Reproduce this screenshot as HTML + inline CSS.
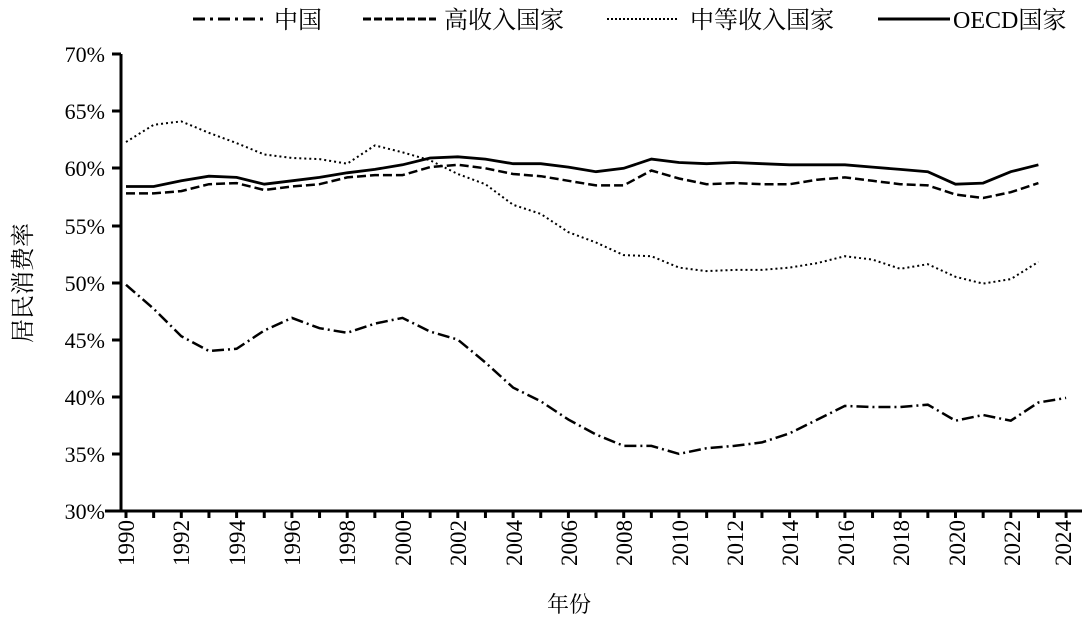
<!DOCTYPE html>
<html><head><meta charset="utf-8"><style>
html,body{margin:0;padding:0;background:#fff;}
svg{display:block;font-family:"Liberation Serif","Noto Serif CJK SC",serif;}
</style></head><body>
<svg id="s" width="1089" height="618" viewBox="0 0 1089 618" xmlns="http://www.w3.org/2000/svg">
<rect width="1089" height="618" fill="#fff"/>
<g stroke="#000" stroke-width="3" fill="none">
<line x1="121" y1="54" x2="121" y2="512"/>
<line x1="105" y1="511" x2="1082" y2="511"/>
<line x1="112" y1="54" x2="121" y2="54"/><line x1="112" y1="111" x2="121" y2="111"/>
<line x1="112" y1="168" x2="121" y2="168"/><line x1="112" y1="226" x2="121" y2="226"/>
<line x1="112" y1="283" x2="121" y2="283"/><line x1="112" y1="340" x2="121" y2="340"/>
<line x1="112" y1="397" x2="121" y2="397"/><line x1="112" y1="454" x2="121" y2="454"/>
</g>
<g id="ticks" stroke="#000" stroke-width="3"></g>
<g id="series" fill="none" stroke="#000"></g>
<g font-size="22" text-anchor="end" fill="#000">
<text x="105" y="62">70%</text><text x="105" y="119">65%</text><text x="105" y="176">60%</text>
<text x="105" y="234">55%</text><text x="105" y="291">50%</text><text x="105" y="348">45%</text>
<text x="105" y="405">40%</text><text x="105" y="462">35%</text><text x="105" y="519">30%</text>
</g>
<g font-size="23" text-anchor="end" fill="#000">
<text transform="translate(134,520) rotate(-90)">1990</text>
<text transform="translate(189,520) rotate(-90)">1992</text>
<text transform="translate(245,520) rotate(-90)">1994</text>
<text transform="translate(300,520) rotate(-90)">1996</text>
<text transform="translate(355,520) rotate(-90)">1998</text>
<text transform="translate(411,520) rotate(-90)">2000</text>
<text transform="translate(466,520) rotate(-90)">2002</text>
<text transform="translate(522,520) rotate(-90)">2004</text>
<text transform="translate(577,520) rotate(-90)">2006</text>
<text transform="translate(632,520) rotate(-90)">2008</text>
<text transform="translate(688,520) rotate(-90)">2010</text>
<text transform="translate(743,520) rotate(-90)">2012</text>
<text transform="translate(798,520) rotate(-90)">2014</text>
<text transform="translate(854,520) rotate(-90)">2016</text>
<text transform="translate(909,520) rotate(-90)">2018</text>
<text transform="translate(965,520) rotate(-90)">2020</text>
<text transform="translate(1020,520) rotate(-90)">2022</text>
<text transform="translate(1071,520) rotate(-90)">2024</text>
</g>
<text x="569" y="612" font-size="22" text-anchor="middle">年份</text>
<text transform="translate(31,283) rotate(-90)" font-size="24" text-anchor="middle">居民消费率</text>
<g stroke="#000" stroke-width="3" fill="none">
<line x1="193" y1="19" x2="264" y2="19" stroke-dasharray="12,5,3,5"/>
<line x1="363" y1="19" x2="436" y2="19" stroke-dasharray="8,3"/>
<line x1="607" y1="19" x2="677" y2="19" stroke-dasharray="2,2" stroke-width="2"/>
<line x1="878" y1="19" x2="950" y2="19" stroke-width="3"/>
</g>
<g font-size="24" fill="#000">
<text x="274" y="28">中国</text><text x="444" y="28">高收入国家</text>
<text x="690" y="28">中等收入国家</text><text x="953" y="28">OECD国家</text>
</g>
</svg>
<script>
var X=function(i){return 126+i*27.65},Y=function(v){return 511-(v-30)*11.425};
var t=document.getElementById('ticks'),h='';
for(var i=0;i<=34;i++){var x=X(i);h+='<line x1="'+x+'" y1="511" x2="'+x+'" y2="518"/>';}
t.innerHTML=h;
var D={
cn:[49.8,47.7,45.3,44,44.2,45.8,46.9,46,45.6,46.4,46.9,45.7,45,43,40.8,39.6,38,36.7,35.7,35.7,35,35.5,35.7,36,36.8,38,39.2,39.1,39.1,39.3,37.9,38.4,37.9,39.5,39.9],
hi:[57.8,57.8,58,58.6,58.7,58.1,58.4,58.6,59.2,59.4,59.4,60.1,60.3,60.0,59.5,59.3,58.9,58.5,58.5,59.8,59.1,58.6,58.7,58.6,58.6,59.0,59.2,58.9,58.6,58.5,57.7,57.4,57.9,58.7],
mi:[62.3,63.8,64.1,63.1,62.2,61.2,60.9,60.8,60.4,62,61.4,60.7,59.5,58.6,56.8,56,54.4,53.5,52.4,52.3,51.3,51,51.1,51.1,51.3,51.7,52.3,52,51.2,51.6,50.5,49.9,50.3,51.8],
oe:[58.4,58.4,58.9,59.3,59.2,58.6,58.9,59.2,59.6,59.9,60.3,60.9,61,60.8,60.4,60.4,60.1,59.7,60,60.8,60.5,60.4,60.5,60.4,60.3,60.3,60.3,60.1,59.9,59.7,58.6,58.7,59.7,60.3]};
var S={cn:'stroke-width="2.5" stroke-dasharray="12,4,2,4"',hi:'stroke-width="2.5" stroke-dasharray="9,4"',mi:'stroke-width="2" stroke-dasharray="2,3"',oe:'stroke-width="2.8"'};
var g='';for(var k in D){var p=D[k].map(function(v,i){return (i?'L':'M')+X(i).toFixed(1)+' '+Y(v).toFixed(1)}).join('');g+='<path d="'+p+'" '+S[k]+'/>';}
document.getElementById('series').innerHTML=g;
</script>
</body></html>
